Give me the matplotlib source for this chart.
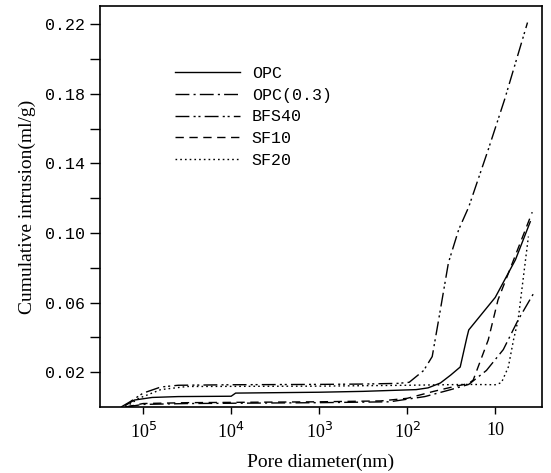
import matplotlib
matplotlib.use('Agg')
import matplotlib.pyplot as plt
from matplotlib.ticker import FixedLocator, NullLocator

# pore diameter (nm) and cumulative intrusion (ml/g)
d_opc = [158000, 126000, 79000, 40000, 10000, 8900, 1000, 316, 160, 79, 58, 42, 32, 25, 21, 20, 10, 5.9, 4.0]
v_opc = [0.001, 0.004, 0.0055, 0.006, 0.0062, 0.008, 0.0085, 0.009, 0.0095, 0.010, 0.011, 0.0138, 0.0184, 0.023, 0.040, 0.0443, 0.063, 0.0846, 0.1065]

d_opc03 = [158000, 100000, 31600, 1000, 158, 63, 32, 20, 12.6, 8.1, 5.5, 3.6]
v_opc03 = [0.0, 0.0015, 0.002, 0.0025, 0.003, 0.006, 0.010, 0.013, 0.021, 0.033, 0.050, 0.066]

d_bfs40 = [178000, 141000, 100000, 63000, 40000, 10000, 1000, 316, 126, 95, 65, 52, 44, 34, 26, 20, 12, 7.8, 4.3]
v_bfs40 = [0.0, 0.003, 0.008, 0.0115, 0.0125, 0.0128, 0.013, 0.0132, 0.0136, 0.0142, 0.021, 0.029, 0.050, 0.083, 0.102, 0.115, 0.148, 0.177, 0.221]

d_sf10 = [158000, 100000, 31600, 1000, 200, 100, 50, 28, 20, 17.8, 12, 9.3, 3.8]
v_sf10 = [0.0, 0.002, 0.0025, 0.003, 0.0035, 0.005, 0.009, 0.012, 0.0135, 0.0155, 0.0386, 0.0616, 0.112]

d_sf20 = [158000, 112000, 63000, 31600, 1000, 100, 20, 10, 8.5, 7.1, 6.2, 5.5, 4.2]
v_sf20 = [0.0, 0.005, 0.010, 0.0118, 0.012, 0.0125, 0.013, 0.0128, 0.014, 0.023, 0.0386, 0.050, 0.098]

labels = ['OPC', 'OPC(0.3)', 'BFS40', 'SF10', 'SF20']

x_ticks = [1e5, 1e4, 1e3, 1e2, 10]
x_tick_labels = ['10$^5$', '10$^4$', '10$^3$', '10$^2$', '10']
y_major = [0.02, 0.06, 0.10, 0.14, 0.18, 0.22]
y_minor = [0.04, 0.08, 0.12, 0.16, 0.20]

fig = plt.figure(figsize=(5.51, 4.73), dpi=100)
ax = fig.add_axes([0.1815, 0.1395, 0.802, 0.8478])

lw = 1.0
ax.plot(d_opc, v_opc, color='black', lw=lw, linestyle='-', label=labels[0])
ax.plot(d_opc03, v_opc03, color='black', lw=lw, linestyle=(0, (10, 3, 1.5, 3)), label=labels[1])
ax.plot(d_bfs40, v_bfs40, color='black', lw=lw, linestyle=(0, (10, 3, 1.5, 2, 1.5, 3)), label=labels[2])
ax.plot(d_sf10, v_sf10, color='black', lw=lw, linestyle=(0, (6, 4)), label=labels[3])
ax.plot(d_sf20, v_sf20, color='black', lw=lw, linestyle=(0, (1.2, 2.2)), label=labels[4])

ax.set_xscale('log')
ax.set_xlim(3.09e5, 2.95)
ax.set_ylim(0, 0.2305)

ax.xaxis.set_major_locator(FixedLocator(x_ticks))
ax.xaxis.set_minor_locator(NullLocator())
ax.set_xticklabels(x_tick_labels, fontfamily='Liberation Serif', fontsize=13)

ax.yaxis.set_major_locator(FixedLocator(y_major))
ax.yaxis.set_minor_locator(FixedLocator(y_minor))
ax.set_yticklabels(['%.2f' % v for v in y_major], fontfamily='Liberation Mono', fontsize=12)

ax.tick_params(axis='y', which='both', direction='out', length=7, width=1.0, pad=4)
ax.tick_params(axis='x', which='major', direction='out', length=5, width=1.0, pad=6)

for s in ax.spines.values():
    s.set_linewidth(1.2)

ax.set_xlabel('Pore diameter(nm)', fontfamily='Liberation Serif', fontsize=14, labelpad=8)
ax.set_ylabel('Cumulative intrusion(ml/g)', fontfamily='Liberation Serif', fontsize=14, labelpad=6)

ax.legend(loc='upper left', bbox_to_anchor=(0.17, 0.85), frameon=False, borderaxespad=0, borderpad=0,
          handlelength=3.9, handletextpad=0.7, labelspacing=0.4,
          prop={'family': 'Liberation Mono', 'size': 12})

fig.savefig('out.png', dpi=100)
